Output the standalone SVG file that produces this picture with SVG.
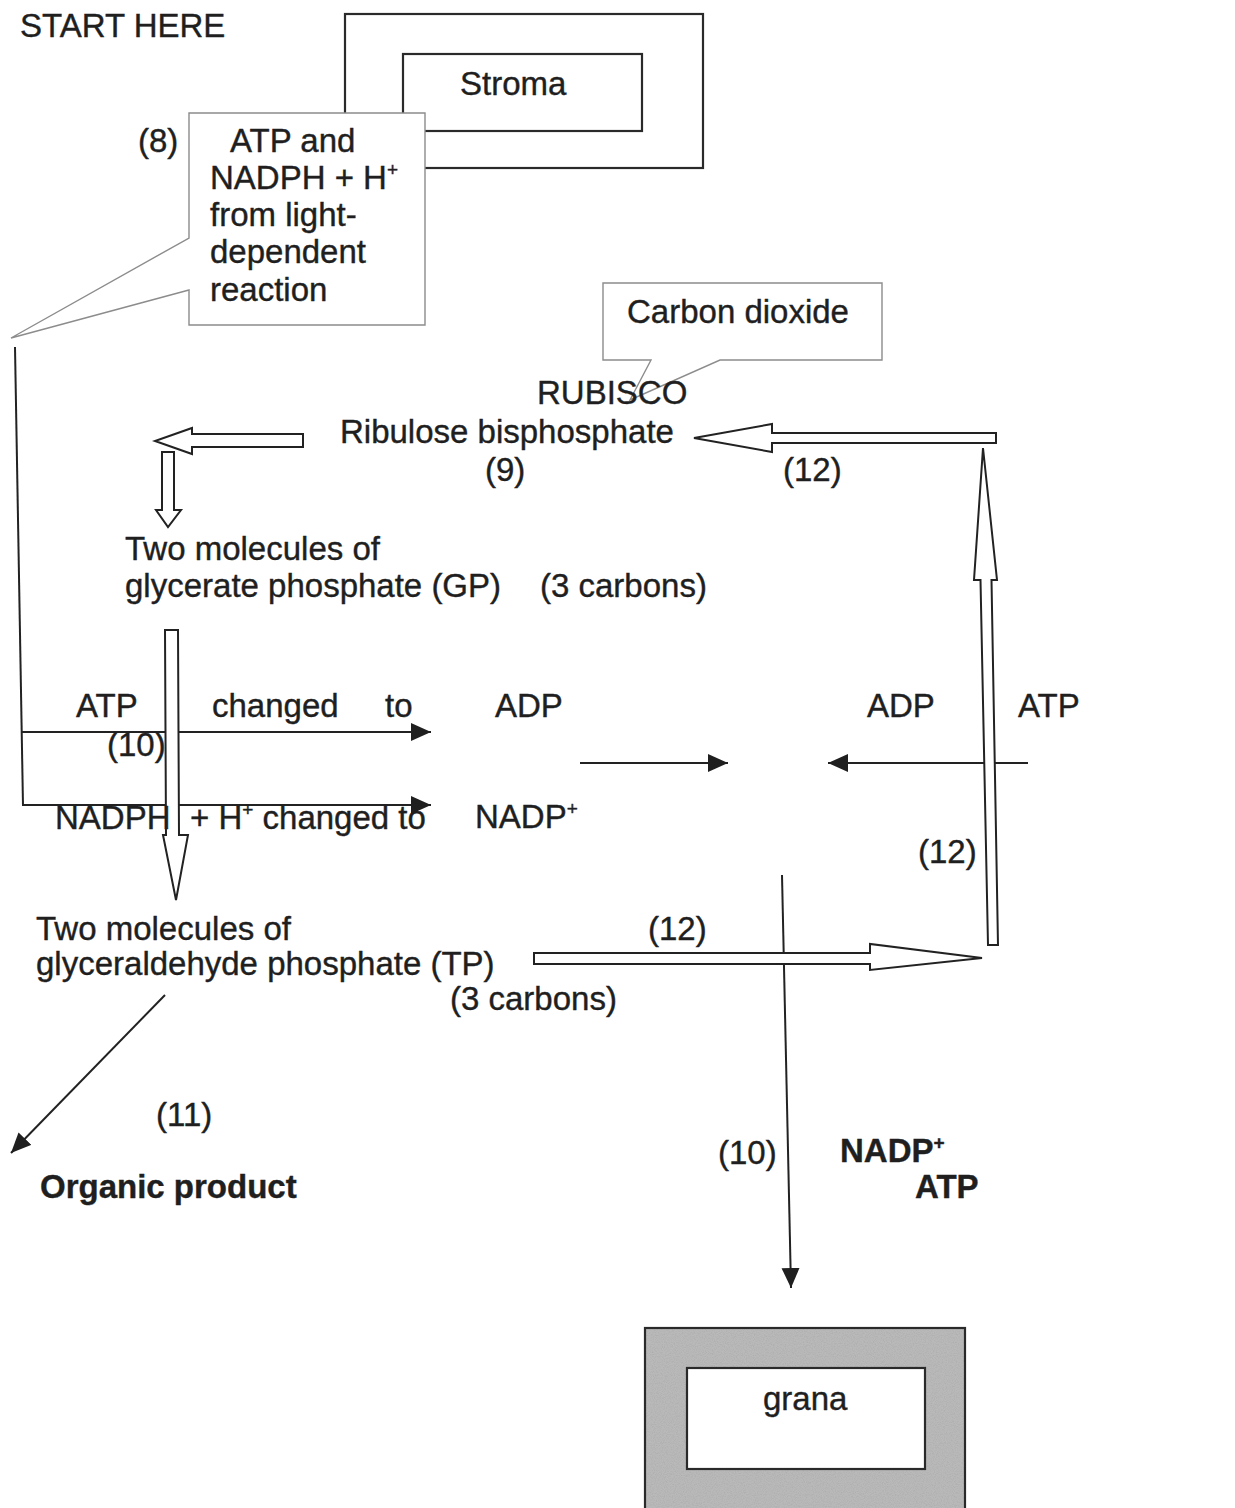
<svg xmlns="http://www.w3.org/2000/svg" width="1235" height="1508" viewBox="0 0 1235 1508">
  <style>
    .t { font-family: "Liberation Sans", Arial, Helvetica, sans-serif; font-size: 33px; fill: #1f1f1f; stroke: #1f1f1f; stroke-width: 0.4; }
    .b { font-weight: bold; }
    .sup { font-size: 19px; }
    .ln { stroke: #222; stroke-width: 2; fill: none; }
    .blk { fill: #fff; stroke: #222; stroke-width: 2; stroke-linejoin: miter; }
    .box { fill: #fff; stroke: #2a2a2a; stroke-width: 2.2; }
    .callout { fill: #fff; stroke: #8c8c8c; stroke-width: 1.4; }
  </style>
  <defs>
    <marker id="head" markerUnits="userSpaceOnUse" markerWidth="22" markerHeight="20" refX="20" refY="9" orient="auto">
      <path d="M0,0 L20,9 L0,18 Z" fill="#1f1f1f"/>
    </marker>
    <filter id="grain" x="0" y="0" width="100%" height="100%">
      <feTurbulence type="fractalNoise" baseFrequency="0.9" numOctaves="2" seed="7"/>
      <feColorMatrix type="matrix" values="0 0 0 0 0.35  0 0 0 0 0.35  0 0 0 0 0.35  0.9 0 0 0 -0.35"/>
    </filter>
  </defs>

  <rect width="1235" height="1508" fill="#fff"/>

  <!-- title -->
  <text class="t" x="20" y="37" font-size="34">START HERE</text>

  <!-- stroma compartment -->
  <g id="stroma">
    <rect class="box" x="345" y="14" width="358" height="154"/>
    <rect class="box" x="403" y="54" width="239" height="77"/>
    <text class="t" x="460" y="95">Stroma</text>
  </g>

  <!-- callout: products of the light-dependent stage -->
  <g id="light-products">
    <path class="callout" d="M189,113 H425 V325 H189 V290 L11,338 L189,238 Z"/>
    <text class="t" x="138" y="152">(8)</text>
    <text class="t" x="230" y="152">ATP and</text>
    <text class="t" x="210" y="189">NADPH + H<tspan class="sup" dy="-13">+</tspan></text>
    <text class="t" x="210" y="226">from light-</text>
    <text class="t" x="210" y="263">dependent</text>
    <text class="t" x="210" y="301">reaction</text>
  </g>

  <!-- callout: carbon dioxide -->
  <g id="co2">
    <path class="callout" d="M603,283 H882 V360 H720 L630,400 L651,360 H603 Z"/>
    <text class="t" x="627" y="323">Carbon dioxide</text>
  </g>

  <!-- RuBP -->
  <g id="rubp">
    <text class="t" x="537" y="404">RUBISCO</text>
    <text class="t" x="340" y="443">Ribulose bisphosphate</text>
    <text class="t" x="485" y="481">(9)</text>
  </g>

  <!-- GP -->
  <g id="gp">
    <text class="t" x="125" y="560">Two molecules of</text>
    <text class="t" x="125" y="597">glycerate phosphate (GP)</text>
    <text class="t" x="540" y="597">(3 carbons)</text>
  </g>

  <!-- TP -->
  <g id="tp">
    <text class="t" x="36" y="940">Two molecules of</text>
    <text class="t" x="36" y="975">glyceraldehyde phosphate (TP)</text>
    <text class="t" x="450" y="1010">(3 carbons)</text>
  </g>

  <!-- organic product -->
  <g id="organic-product">
    <text class="t" x="156" y="1126">(11)</text>
    <text class="t b" x="40" y="1198">Organic product</text>
  </g>

  <!-- grana compartment -->
  <g id="grana">
    <rect x="645" y="1328" width="320" height="190" fill="#b9b9b9"/>
    <rect x="645" y="1328" width="320" height="190" filter="url(#grain)"/>
    <rect x="645" y="1328" width="320" height="190" fill="none" stroke="#2a2a2a" stroke-width="2.2"/>
    <rect class="box" x="687" y="1368" width="238" height="101"/>
    <text class="t" x="763" y="1410">grana</text>
  </g>

  <!-- connectors -->
  <g id="connectors">
    <!-- supply line from the light-dependent stage -->
    <path class="ln" d="M15,347 L23,806"/>
    <path class="ln" d="M22,732 H431" marker-end="url(#head)"/>
    <path class="ln" d="M23,805 H431" marker-end="url(#head)"/>

    <!-- ADP / ATP exchange -->
    <path class="ln" d="M580,763 H728" marker-end="url(#head)"/>
    <path class="ln" d="M1028,763 H828" marker-end="url(#head)"/>

    <!-- return to the grana -->
    <path class="ln" d="M782,875 L791,1288" marker-end="url(#head)"/>

    <!-- TP to organic product -->
    <path class="ln" d="M165,995 L11,1153" marker-end="url(#head)"/>

    <!-- block arrows of the cycle -->
    <polygon class="blk" points="996,433 772,433 772,424 694,438 772,452 772,443 996,443"/>
    <polygon class="blk" points="303,434 192,434 192,428 155,441 192,454 192,447 303,447"/>
    <polygon class="blk" points="162,452 174,452 174,510 181,510 168,527 156,510 162,510"/>
    <polygon class="blk" points="165,630 178,630 179,835 188,835 176,900 163,835 166,835"/>
    <polygon class="blk" points="534,953 870,953 870,944 982,958 870,970 870,964 534,964"/>
    <polygon class="blk" points="988,945 998,945 991.5,580 997,580 983,448 974,580 980.5,580"/>
  </g>

  <!-- step labels and molecule names along the connectors -->
  <g id="labels">
    <text class="t" x="783" y="481">(12)</text>
    <text class="t" x="76" y="717">ATP</text>
    <text class="t" x="212" y="717">changed</text>
    <text class="t" x="385" y="717">to</text>
    <text class="t" x="495" y="717">ADP</text>
    <text class="t" x="107" y="756">(10)</text>
    <text class="t" x="55" y="829">NADPH</text>
    <text class="t" x="190" y="829">+ H<tspan class="sup" dy="-13">+</tspan><tspan dy="13"> changed to</tspan></text>
    <text class="t" x="475" y="828">NADP<tspan class="sup" dy="-13">+</tspan></text>
    <text class="t" x="867" y="717">ADP</text>
    <text class="t" x="1018" y="717">ATP</text>
    <text class="t" x="918" y="863">(12)</text>
    <text class="t" x="648" y="940">(12)</text>
    <text class="t" x="718" y="1164">(10)</text>
    <text class="t b" x="840" y="1162">NADP<tspan class="sup" dy="-13">+</tspan></text>
    <text class="t b" x="915" y="1198">ATP</text>
  </g>
</svg>
